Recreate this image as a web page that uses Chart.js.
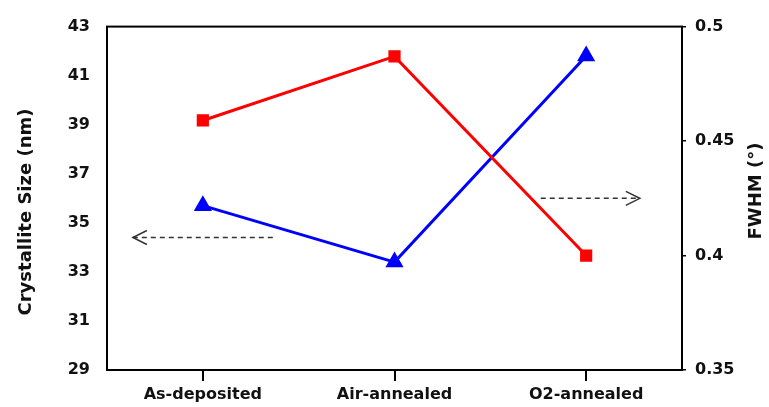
<!DOCTYPE html>
<html>
<head>
<meta charset="utf-8">
<script src="https://cdn.jsdelivr.net/npm/chart.js@4"></script>
<style>
  body { margin: 0; background: #fff; }
  #wrap { width: 769px; height: 407px; }
</style>
</head>
<body>
<div id="wrap"><canvas id="sizeChart"></canvas></div>
<script>
// values
const categories = ["As-deposited", "Air-annealed", "O2-annealed"]
const crystalliteSize = [35.7, 33.4, 41.8]   // nm, left axis
const fwhm = [0.459, 0.487, 0.400]            // degrees, right axis

const sizeMin = 29, sizeMax = 43, sizeStep = 2
const fwhmMin = 0.35, fwhmMax = 0.5, fwhmStep = 0.05

// dashed arrows, in category index / left axis units: [fromX, toX, y]
const arrowLeft = [0.365, -0.365, 34.4]
const arrowRight = [1.763, 2.28, 36.0]

const tickFont = { family: "DejaVu Sans", weight: "bold", size: 16 }
const textColor = "#111"

function drawArrow(ctx, x0, x1, y) {
    ctx.save()
    ctx.strokeStyle = "#333"
    ctx.lineWidth = 1.5
    ctx.setLineDash([5, 4])
    ctx.beginPath()
    ctx.moveTo(x0, y)
    ctx.lineTo(x1, y)
    ctx.stroke()
    ctx.setLineDash([])
    let dir = x1 > x0 ? -1 : 1
    ctx.beginPath()
    ctx.moveTo(x1 + dir * 14, y - 7)
    ctx.lineTo(x1, y)
    ctx.lineTo(x1 + dir * 14, y + 7)
    ctx.stroke()
    ctx.restore()
}

const extras = {
    id: "extras",
    afterDraw(chart) {
        const ctx = chart.ctx
        const area = chart.chartArea
        const x = chart.scales.x
        const y = chart.scales.y

        // frame
        ctx.save()
        ctx.strokeStyle = "#000"
        ctx.lineWidth = 2
        ctx.strokeRect(area.left, area.top, area.right - area.left, area.bottom - area.top)
        ctx.restore()

        drawArrow(ctx, x.getPixelForValue(arrowLeft[0]), x.getPixelForValue(arrowLeft[1]), y.getPixelForValue(arrowLeft[2]))
        drawArrow(ctx, x.getPixelForValue(arrowRight[0]), x.getPixelForValue(arrowRight[1]), y.getPixelForValue(arrowRight[2]))

        // axis titles, both read bottom to top
        ctx.save()
        ctx.fillStyle = textColor
        ctx.font = "bold 18px 'DejaVu Sans'"
        ctx.textAlign = "center"
        ctx.textBaseline = "middle"
        ctx.translate(26, 212)
        ctx.rotate(-Math.PI / 2)
        ctx.fillText("Crystallite Size (nm)", 0, 0)
        ctx.restore()

        ctx.save()
        ctx.fillStyle = textColor
        ctx.font = "bold 18px 'DejaVu Sans'"
        ctx.textAlign = "center"
        ctx.textBaseline = "middle"
        ctx.translate(756, 191)
        ctx.rotate(-Math.PI / 2)
        ctx.fillText("FWHM (°)", 0, 0)
        ctx.restore()
    }
}

new Chart("sizeChart", {
    type: "line",
    data: {
        labels: categories,
        datasets: [{
            label: "FWHM",
            data: fwhm,
            yAxisID: "y1",
            borderColor: "#ff0000",
            backgroundColor: "#ff0000",
            borderWidth: 3,
            pointStyle: "rect",
            pointRadius: 6.5,
            fill: false
        }, {
            label: "Crystallite Size",
            data: crystalliteSize,
            yAxisID: "y",
            borderColor: "#0000ff",
            backgroundColor: "#0000ff",
            borderWidth: 3,
            pointStyle: "triangle",
            pointRadius: 7.5,
            fill: false
        }]
    },
    options: {
        responsive: true,
        maintainAspectRatio: false,
        animation: false,
        layout: { padding: { top: 17, left: 0, right: 0, bottom: 0 } },
        plugins: {
            legend: { display: false },
            tooltip: { enabled: false }
        },
        scales: {
            x: {
                offset: true,
                border: { display: false },
                grid: { display: true, drawOnChartArea: false, drawTicks: true, tickLength: 11, color: "#000", lineWidth: 2, offset: false },
                ticks: { font: tickFont, color: textColor, padding: 4, maxRotation: 0 },
                afterFit(scale) { scale.height = 37 }
            },
            y: {
                position: "left",
                min: sizeMin,
                max: sizeMax,
                border: { display: false },
                grid: { display: false, drawTicks: false },
                ticks: { stepSize: sizeStep, font: tickFont, color: textColor, padding: 17 },
                afterFit(scale) { scale.width = 107 }
            },
            y1: {
                position: "right",
                min: fwhmMin,
                max: fwhmMax,
                border: { display: false },
                grid: { drawOnChartArea: false, drawTicks: true, tickLength: 4, color: "#000", lineWidth: 1.5 },
                ticks: {
                    stepSize: fwhmStep,
                    font: tickFont,
                    color: textColor,
                    padding: 9,
                    callback: (value) => String(Number(value.toFixed(2)))
                },
                afterFit(scale) { scale.width = 87 }
            }
        }
    },
    plugins: [extras]
})
</script>
</body>
</html>
